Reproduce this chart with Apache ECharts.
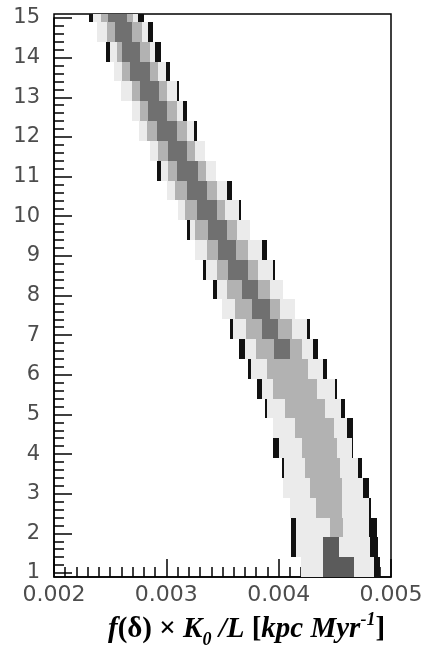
<!DOCTYPE html>
<html>
<head>
<meta charset="utf-8">
<script src="https://cdn.jsdelivr.net/npm/echarts@6/dist/echarts.min.js"></script>
<style>
  html, body { margin: 0; padding: 0; background: #fff; }
  #chart { width: 427px; height: 658px; }
</style>
</head>
<body>
<div id="chart"></div>
<script>
// lower edge of each row (rows are 0.5 high), bottom to top
const rowLow = [0.9, 1.4, 1.9, 2.4, 2.9, 3.4, 3.9, 4.4, 4.9, 5.4, 5.9, 6.4, 6.9, 7.4, 7.9,
  8.4, 8.9, 9.4, 9.9, 10.4, 10.9, 11.4, 11.9, 12.4, 12.9, 13.4, 13.9, 14.4, 14.9];
// outer (light grey) band
const lightLo = [0.004199, 0.004154, 0.004154, 0.004101, 0.004039, 0.004048, 0.004003, 0.003950,
  0.003896, 0.003852, 0.003754, 0.003700, 0.003594, 0.003496, 0.003451, 0.003353, 0.003255,
  0.003211, 0.003104, 0.003006, 0.002953, 0.002855, 0.002757, 0.002694, 0.002597, 0.002534,
  0.002499, 0.002383, 0.002347];
const lightHi = [0.004849, 0.004813, 0.004804, 0.004804, 0.004751, 0.004706, 0.004653, 0.004608,
  0.004555, 0.004502, 0.004395, 0.004306, 0.004252, 0.004145, 0.004039, 0.003950, 0.003852,
  0.003745, 0.003647, 0.003540, 0.003442, 0.003344, 0.003246, 0.003148, 0.003095, 0.002997,
  0.002899, 0.002837, 0.002748];
// middle (grey) band
const midLo = [null, null, 0.004457, 0.004332, 0.004279, 0.004234, 0.004208, 0.004145, 0.004056,
  0.003950, 0.003896, 0.003798, 0.003709, 0.003611, 0.003540, 0.003451, 0.003362, 0.003255,
  0.003166, 0.003077, 0.003015, 0.002926, 0.002828, 0.002766, 0.002694, 0.002605, 0.002561,
  0.002472, 0.002418];
const midHi = [null, null, 0.004573, 0.004564, 0.004564, 0.004546, 0.004519, 0.004493, 0.004413,
  0.004341, 0.004261, 0.004208, 0.004119, 0.004012, 0.003923, 0.003816, 0.003727, 0.003629,
  0.003522, 0.003451, 0.003353, 0.003255, 0.003184, 0.003095, 0.003006, 0.002926, 0.002855,
  0.002783, 0.002703];
// inner (dark) band
const darkLo = [0.004395, 0.004395, null, null, null, null, null, null, null, null, null,
  0.003959, 0.003852, 0.003763, 0.003674, 0.003549, 0.003460, 0.003371, 0.003273, 0.003184,
  0.003095, 0.003015, 0.002917, 0.002837, 0.002766, 0.002677, 0.002605, 0.002543, 0.002481];
const darkHi = [0.004671, 0.004537, null, null, null, null, null, null, null, null, null,
  0.004101, 0.003994, 0.003923, 0.003816, 0.003727, 0.003620, 0.003540, 0.003451, 0.003362,
  0.003282, 0.003184, 0.003095, 0.003006, 0.002935, 0.002855, 0.002766, 0.002694, 0.002650];
// outer edge of the black slivers on each side of the band
const blackLeft = [null, 0.004110, 0.004110, null, null, 0.004030, 0.003950, null, 0.003878,
  0.003807, 0.003727, 0.003647, 0.003567, null, 0.003415, 0.003326, null, 0.003184, null, null,
  0.002917, null, null, null, null, null, 0.002463, null, 0.002312];
const blackRight = [0.004902, 0.004884, 0.004875, 0.004818, 0.004804, 0.004742, 0.004666,
  0.004662, 0.004591, 0.004515, 0.004430, 0.004350, 0.004279, null, null, 0.003967, 0.003896,
  null, 0.003665, 0.003585, null, null, 0.003273, 0.003184, 0.003113, 0.003033, 0.002953,
  0.002881, 0.002801];
const rowHeight = 0.5;

const chart = echarts.init(document.getElementById('chart'));

const labelFont = {
  fontFamily: 'DejaVu Sans',
  fontSize: 21,
  color: '#4d4d4d'
};
const black = { color: '#000', width: 1.5 };

// one grey cell of a row
function cell(api, x0, x1, y, color) {
  const a = api.coord([x0, y + rowHeight]);
  const b = api.coord([x1, y]);
  const left = Math.round(a[0]);
  const top = Math.round(a[1]);
  return {
    type: 'rect',
    shape: { x: left, y: top, width: Math.round(b[0]) - left, height: Math.round(b[1]) - top },
    style: { fill: color }
  };
}

function renderRow(params, api) {
  const i = params.dataIndex;
  const y = rowLow[i];
  const children = [cell(api, lightLo[i], lightHi[i], y, '#ebebeb')];
  if (midLo[i] !== null) {
    children.push(cell(api, midLo[i], midHi[i], y, '#b2b2b2'));
  }
  if (darkLo[i] !== null) {
    // the two bottom rows are a shade darker
    children.push(cell(api, darkLo[i], darkHi[i], y, i < 2 ? '#5b5b5b' : '#707070'));
  }
  if (blackLeft[i] !== null) {
    children.push(cell(api, blackLeft[i], lightLo[i], y, '#111'));
  }
  if (blackRight[i] !== null) {
    children.push(cell(api, lightHi[i], blackRight[i], y, '#111'));
  }
  return { type: 'group', children: children };
}

// title pieces: italic / upright bold serif, sub and superscripts
const serif = { fontFamily: 'Liberation Serif', fontWeight: 'bold', fill: '#000' };
const titleRich = {
  a: Object.assign({ fontStyle: 'italic', fontSize: 29, lineHeight: 38 }, serif),
  r: Object.assign({ fontStyle: 'normal', fontSize: 29, lineHeight: 38 }, serif),
  s: Object.assign({ fontStyle: 'italic', fontSize: 18, lineHeight: 18, verticalAlign: 'bottom' }, serif),
  p: Object.assign({ fontStyle: 'italic', fontSize: 18, lineHeight: 18, verticalAlign: 'top' }, serif)
};

const option = {
  animation: false,
  grid: [
    // frame + data area
    { left: 54, right: 36, top: 14, bottom: 81, show: true, borderColor: '#000', borderWidth: 1.5 },
    // the y scale runs 1..15, a little inside the frame
    { left: 54, right: 36, top: 18, bottom: 85 }
  ],
  xAxis: [
    {
      gridIndex: 0,
      type: 'value',
      min: 0.002,
      max: 0.005,
      interval: 0.001,
      axisLine: { lineStyle: black },
      axisTick: { inside: true, length: 18, lineStyle: black },
      minorTick: { show: true, splitNumber: 10, length: 10, lineStyle: black },
      splitLine: { show: false },
      axisLabel: Object.assign({ margin: 7, formatter: v => v.toFixed(3) }, labelFont, { fontSize: 22 })
    },
    { gridIndex: 1, type: 'value', min: 0.002, max: 0.005, show: false }
  ],
  yAxis: [
    { gridIndex: 0, type: 'value', min: 0.9, max: 15.1, show: false },
    {
      gridIndex: 1,
      type: 'value',
      min: 1,
      max: 15,
      interval: 1,
      axisLine: { lineStyle: black },
      axisTick: { inside: true, length: 18, lineStyle: black },
      minorTick: { show: true, splitNumber: 5, length: 10, lineStyle: black },
      splitLine: { show: false },
      axisLabel: Object.assign({ margin: 14 }, labelFont)
    }
  ],
  graphic: [
    {
      type: 'text',
      left: 108,
      top: 611,
      style: {
        text: '{a|f}{r|(δ) × }{a|K}{s|0}{a| /L }{r|[}{a|kpc Myr}{p|-1}{r|]}',
        rich: titleRich
      }
    }
  ],
  series: [
    {
      type: 'custom',
      xAxisIndex: 0,
      yAxisIndex: 0,
      clip: true,
      silent: true,
      renderItem: renderRow,
      data: rowLow.map((y, i) => [lightLo[i], y])
    }
  ]
};

chart.setOption(option);
</script>
</body>
</html>
